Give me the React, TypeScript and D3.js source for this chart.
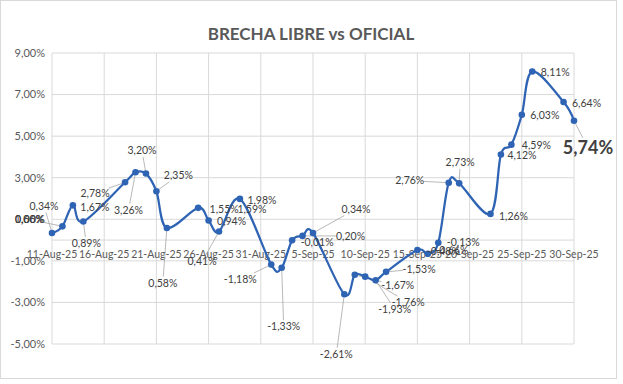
import React from "react";
import * as d3 from "d3";

const dates = [
  "2025-08-11", "2025-08-12", "2025-08-13", "2025-08-14",
  "2025-08-18", "2025-08-19", "2025-08-20", "2025-08-21", "2025-08-22",
  "2025-08-25", "2025-08-26", "2025-08-27", "2025-08-29",
  "2025-09-01", "2025-09-02", "2025-09-03", "2025-09-04", "2025-09-05",
  "2025-09-08", "2025-09-09", "2025-09-10", "2025-09-11", "2025-09-12",
  "2025-09-15", "2025-09-16", "2025-09-17", "2025-09-18", "2025-09-19",
  "2025-09-22", "2025-09-23", "2025-09-24", "2025-09-25", "2025-09-26",
  "2025-09-29", "2025-09-30",
];
const brecha = [
  0.34, 0.66, 1.67, 0.89,
  2.78, 3.26, 3.20, 2.35, 0.58,
  1.55, 0.94, 0.41, 1.98,
  -1.18, -1.33, -0.01, 0.20, 0.34,
  -2.61, -1.67, -1.76, -1.93, -1.53,
  -0.48, -0.66, -0.13, 2.76, 2.73,
  1.26, 4.12, 4.59, 6.03, 8.11,
  6.64, 5.74,
];
// stray labels visible in the reference that have no visible marker
const strayLabelTexts = ["0,00%", "1,59%"];

const xTickLabels = [
  "11-Aug-25", "16-Aug-25", "21-Aug-25", "26-Aug-25", "31-Aug-25", "5-Sep-25",
  "10-Sep-25", "15-Sep-25", "20-Sep-25", "25-Sep-25", "30-Sep-25",
];
const yTicks = [-5, -3, -1, 1, 3, 5, 7, 9];
const title = "BRECHA LIBRE vs OFICIAL";

// label layout (offset of label centre from its point)
const labelOffsets: [number, number][] = [
  [-8, -27], [-33, -7], [22, 2], [3, 22],
  [-30, 11], [-7, 38], [-4, -23], [22, -16], [-4, 55],
  [26, 1], [23, 1], [-17, 30], [22, 1],
  [-31, 15], [2, 59], [25, 2], [48, 0], [43, -24],
  [-8, 60], [43, 11], [43, 26], [19, 29], [33, -3],
  [26, 1], [24, -3], [25, 0], [-39, -2], [1, -21],
  [23, 2], [21, 1], [25, 1], [23, 1], [23, 1],
  [23, 1], [14, 27],
];
// stray labels: anchored to point index, with offsets
const strayAnchor = [1, 12];
const strayOffsets: [number, number][] = [[-33, -7], [12, 10]];

const W = 623;
const H = 384;
const parse = d3.timeParse("%Y-%m-%d");
const parseTick = d3.timeParse("%d-%b-%y");
const fmtPct = (v: number) => v.toFixed(2).replace(".", ",") + "%";

const FONT = "Lato, 'Open Sans', sans-serif";
const LINE = "#2F64B4";

export default function App() {
  const x = d3
    .scaleTime()
    .domain([parse("2025-08-11")!, parse("2025-09-30")!])
    .range([52, 574]);
  const y = d3.scaleLinear().domain([-5, 9]).range([344, 53]);

  const pts = dates.map((d, i) => ({ x: x(parse(d)!), y: y(brecha[i]), v: brecha[i] }));
  const line = d3
    .line<{ x: number; y: number }>()
    .x((d) => d.x)
    .y((d) => d.y)
    .curve(d3.curveCardinal.tension(0));

  const tickDates = xTickLabels.map((t) => parseTick(t)!);

  const labelItems = pts.map((p, i) => ({
    px: p.x,
    py: p.y,
    text: fmtPct(p.v),
    dx: labelOffsets[i][0],
    dy: labelOffsets[i][1],
    big: i === pts.length - 1,
    stray: false,
  }));
  strayLabelTexts.forEach((t, i) => {
    const p = pts[strayAnchor[i]];
    labelItems.push({
      px: p.x,
      py: p.y,
      text: t,
      dx: strayOffsets[i][0],
      dy: strayOffsets[i][1],
      big: false,
      stray: true,
    });
  });

  const leader = (it: any) => {
    if (it.stray) return null;
    const cx = it.px + it.dx;
    const cy = it.py + it.dy;
    const w = it.big ? 48 : it.text.length * 5.1;
    const h = it.big ? 18 : 11;
    const hw = w / 2 + 1;
    const hh = h / 2 + 1;
    const ddx = it.px - cx;
    const ddy = it.py - cy;
    if (Math.abs(ddx) <= hw + 13 && Math.abs(ddy) <= hh + 8) return null;
    const s = Math.min(
      ddx !== 0 ? hw / Math.abs(ddx) : Infinity,
      ddy !== 0 ? hh / Math.abs(ddy) : Infinity
    );
    const ex = cx + ddx * s;
    const ey = cy + ddy * s;
    const len = Math.hypot(it.px - ex, it.py - ey);
    const k = (len - 3) / len;
    return { x1: ex, y1: ey, x2: ex + (it.px - ex) * k, y2: ey + (it.py - ey) * k };
  };

  return (
    <svg
      width={W}
      height={H}
      style={{ position: "absolute", left: 0, top: 0, background: "#fff" }}
      fontFamily={FONT}
    >
      <rect x={0.5} y={0.5} width={616} height={378} fill="#fff" stroke="#D9D9D9" />
      <text x={311} y={40} textAnchor="middle" fontSize={17} fontWeight={700} fill="#595959">
        {title}
      </text>
      {yTicks.map((t) => (
        <line key={"h" + t} x1={52} x2={574} y1={y(t)} y2={y(t)} stroke="#D9D9D9" />
      ))}
      {tickDates.map((d, i) => (
        <line key={"v" + i} x1={x(d)} x2={x(d)} y1={y(9)} y2={y(-5)} stroke="#D9D9D9" />
      ))}
      <line x1={52} x2={574} y1={y(0)} y2={y(0)} stroke="#D9D9D9" />
      {yTicks.map((t) => (
        <text
          key={"yl" + t}
          x={45}
          y={y(t)}
          dy="0.35em"
          textAnchor="end"
          fontSize={11}
          fill="#595959"
        >
          {fmtPct(t)}
        </text>
      ))}
      {tickDates.map((d, i) => (
        <text
          key={"xl" + i}
          x={x(d)}
          y={y(0) + 14}
          dy="0.35em"
          textAnchor="middle"
          fontSize={10.5}
          fill="#595959"
        >
          {xTickLabels[i]}
        </text>
      ))}
      {labelItems.map((it, i) => {
        const l = leader(it);
        return l ? <line key={"ld" + i} {...l} stroke="#A6A6A6" strokeWidth={0.8} /> : null;
      })}
      <path d={line(pts) || ""} fill="none" stroke={LINE} strokeWidth={2.25} />
      {pts.map((p, i) => (
        <circle key={"m" + i} cx={p.x} cy={p.y} r={3.3} fill={LINE} />
      ))}
      {labelItems.map((it, i) => (
        <text
          key={"lb" + i}
          x={it.px + it.dx}
          y={it.py + it.dy}
          dy="0.35em"
          textAnchor="middle"
          fontSize={it.big ? 18 : 10.5}
          fontWeight={it.big ? 700 : 400}
          fill="#404040"
        >
          {it.text}
        </text>
      ))}
    </svg>
  );
}
